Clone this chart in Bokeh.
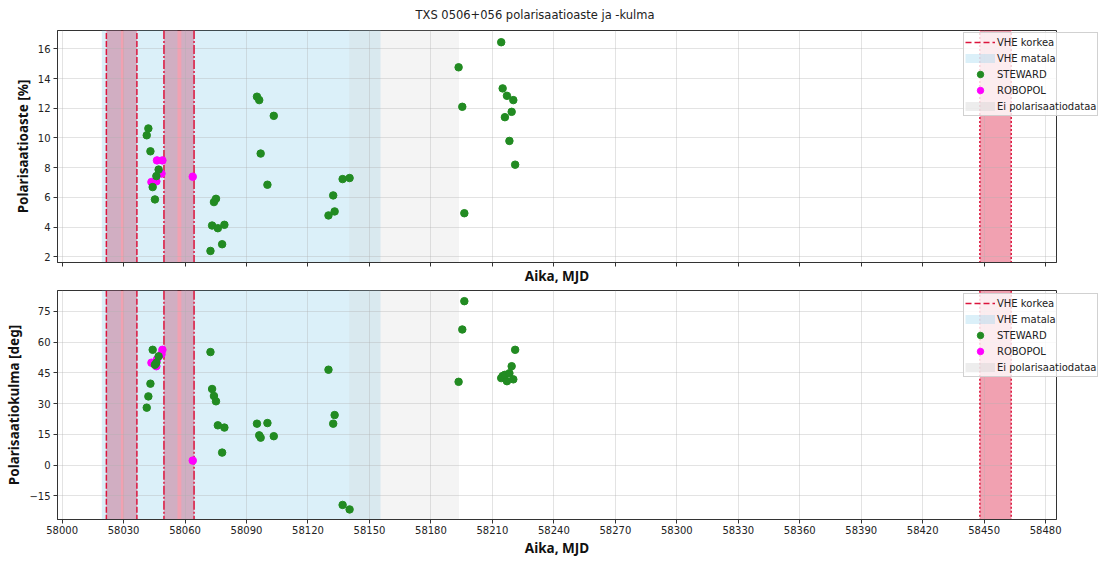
from bokeh.plotting import figure
from bokeh.layouts import column
from bokeh.models import Range1d, FixedTicker, Legend, LegendItem
from bokeh.embed import file_html
from bokeh.resources import INLINE

title_text = "TXS 0506+056 polarisaatioaste ja -kulma"
x_label = "Aika, MJD"
y_label_top = "Polarisaatioaste [%]"
y_label_bottom = "Polarisaatiokulma [deg]"

# STEWARD observations
steward_mjd = [58041.3, 58042.1, 58043.1, 58044.2, 58045.3, 58046.0, 58047.1,
               58072.4, 58073.2, 58074.1, 58075.1, 58076.0, 58078.1, 58079.2,
               58095.1, 58096.2, 58096.9, 58100.2, 58103.3,
               58130.0, 58132.3, 58133.0, 58136.9, 58140.3,
               58193.5, 58195.3, 58196.3,
               58214.3, 58215.0, 58216.1, 58217.1, 58218.3, 58219.4, 58220.2, 58221.1]
steward_pol = [10.18, 10.64, 9.10, 6.69, 5.86, 7.43, 7.87,
               2.39, 4.10, 5.68, 5.90, 3.92, 2.84, 4.15,
               12.78, 12.55, 8.95, 6.85, 11.49,
               4.78, 6.13, 5.05, 7.23, 7.30,
               14.76, 12.10, 4.93,
               16.45, 13.34, 11.40, 12.84, 9.80, 11.76, 12.55, 8.20]
steward_angle = [28.0, 33.5, 39.7, 56.2, 48.9, 49.9, 53.0,
                 55.1, 37.1, 33.7, 31.1, 19.4, 6.1, 18.3,
                 20.2, 14.5, 13.4, 20.5, 14.1,
                 46.5, 20.2, 24.4, -19.4, -21.6,
                 40.6, 66.1, 79.9,
                 42.4, 43.4, 44.0, 40.9, 44.8, 48.2, 41.8, 56.2]

# RoboPol observations
robopol_mjd = [58043.6, 58046.0, 58046.3, 58048.5, 58048.95, 58063.75]
robopol_pol = [7.03, 7.08, 8.49, 7.60, 8.49, 7.39]
robopol_angle = [49.9, 48.2, 51.5, 54.0, 56.2, 2.2]

# Shaded intervals (MJD)
vhe_high_start = [58021.6, 58049.7, 58447.9]
vhe_high_end = [58036.5, 58064.4, 58463.2]
vhe_high_dash = ["6 2", "9 2 2 2", "2 2"]
vhe_low_start = [58019.4, 58030.1, 58058.2]
vhe_low_end = [58028.7, 58056.3, 58155.4]
nodata_start = [58140.1]
nodata_end = [58193.7]

x_ticks = list(range(58000, 58481, 30))
y_ticks_top = [2, 4, 6, 8, 10, 12, 14, 16]
y_ticks_bottom = [-15, 0, 15, 30, 45, 60, 75]

X_RANGE = (57997.75, 58485.3)
YR_TOP = (1.61, 17.24)
YR_BOTTOM = (-26.5, 85.1)

FONT = "DejaVu Sans"
LABEL_FONT = "Noto Sans"
BIG = 1e4
LEG_H = 82
OFF_X = [X_RANGE[0] - 200, X_RANGE[0] - 100]
OFF_Y = [-BIG, -BIG]


def panel(st_y, rp_y, yr, yticks, ylabel, frame_h, top_border, show_tick_labels,
          legend_gap, title=None):
    p = figure(frame_width=999, frame_height=frame_h,
               x_range=Range1d(*X_RANGE), y_range=Range1d(*yr),
               output_backend="svg", toolbar_location=None,
               min_border_left=57, min_border_right=48,
               min_border_top=top_border, min_border_bottom=0,
               title=title)
    if title is not None:
        p.title.text_font = FONT
        p.title.text_font_size = "11.5px"
        p.title.text_font_style = "normal"
        p.title.align = "left"
        p.title.offset = 358
        p.title.vertical_align = "top"
        p.title.text_color = "#222222"
        p.title.standoff = 13
    p.outline_line_color = "#333333"
    p.outline_line_width = 1
    p.outline_line_alpha = 1

    p.quad(left=vhe_high_start, right=vhe_high_end, bottom=-BIG, top=BIG,
           fill_color="crimson", fill_alpha=0.4, line_color=None, level="image")
    p.quad(left=vhe_low_start, right=vhe_low_end, bottom=-BIG, top=BIG,
           fill_color="skyblue", fill_alpha=0.3, line_color=None, level="image")
    p.quad(left=nodata_start, right=nodata_end, bottom=-BIG, top=BIG,
           fill_color="lightgray", fill_alpha=0.25, line_color=None, level="image")

    for s, e, d in zip(vhe_high_start, vhe_high_end, vhe_high_dash):
        p.segment(x0=[s, e], y0=[-BIG, -BIG], x1=[s, e], y1=[BIG, BIG],
                  line_color="crimson", line_width=1.5, line_dash=d)

    # legend proxies (outside the visible range)
    leg_line = p.line(x=OFF_X, y=OFF_Y, line_color="crimson", line_width=1.5, line_dash="6 3")
    leg_blue = p.line(x=OFF_X, y=OFF_Y, line_color="skyblue", line_alpha=0.3,
                      line_width=9, line_cap="butt")
    leg_gray = p.line(x=OFF_X, y=OFF_Y, line_color="lightgray", line_alpha=0.4,
                      line_width=9, line_cap="butt")

    rp = p.scatter(robopol_mjd, rp_y, size=7.5, fill_color="magenta", line_color="magenta")
    st = p.scatter(steward_mjd, st_y, size=7.5, fill_color="forestgreen", line_color="forestgreen")

    p.xgrid.grid_line_color = "#b0b0b0"
    p.ygrid.grid_line_color = "#b0b0b0"
    p.xgrid.grid_line_alpha = 0.35
    p.ygrid.grid_line_alpha = 0.35

    p.yaxis.ticker = FixedTicker(ticks=yticks)
    p.yaxis.major_label_overrides = {t: ("\u2212" + str(-t)) for t in yticks if t < 0}
    for ax in (p.xaxis[0], p.yaxis[0]):
        ax.major_tick_out = 4
        ax.major_tick_in = 0
        ax.minor_tick_line_color = None
        ax.major_tick_line_color = "#333333"
        ax.axis_line_color = "#333333"
        ax.major_label_text_font = FONT
        ax.major_label_text_font_size = "10px"
        ax.major_label_text_color = "#222222"
        ax.major_label_standoff = 3
        ax.axis_label_text_font = LABEL_FONT
        ax.axis_label_text_font_size = "13.5px"
        ax.axis_label_text_font_style = "bold"
        ax.axis_label_text_color = "#111111"
        ax.axis_label_standoff = 3
    p.xaxis.axis_label = x_label
    p.yaxis.axis_label = ylabel
    if show_tick_labels:
        p.xaxis.ticker = FixedTicker(ticks=x_ticks)
        p.xaxis.major_label_standoff = 2
        p.xaxis.axis_label_standoff = 2
    else:
        # tick marks only (as minor ticks), no tick labels
        p.xaxis.ticker = FixedTicker(ticks=[], minor_ticks=x_ticks)
        p.xaxis.minor_tick_line_color = "#333333"
        p.xaxis.minor_tick_out = 4
        p.xaxis.minor_tick_in = 0
        p.xaxis.axis_label_standoff = 0
        p.xgrid.ticker = FixedTicker(ticks=x_ticks)

    legend = Legend(items=[
        LegendItem(label="VHE korkea", renderers=[leg_line]),
        LegendItem(label="VHE matala", renderers=[leg_blue]),
        LegendItem(label="STEWARD", renderers=[st]),
        LegendItem(label="ROBOPOL", renderers=[rp]),
        LegendItem(label="Ei polarisaatiodataa", renderers=[leg_gray]),
    ])
    legend.location = (-93, frame_h - legend_gap - LEG_H)
    legend.label_text_font = FONT
    legend.label_text_font_size = "10px"
    legend.label_text_color = "#222222"
    legend.glyph_width = 30
    legend.glyph_height = 16
    legend.label_height = 16
    legend.label_standoff = 2
    legend.spacing = 0
    legend.padding = 1
    legend.margin = -50
    legend.border_line_color = "#cccccc"
    legend.border_line_alpha = 0.9
    legend.background_fill_alpha = 0.8
    p.add_layout(legend, "right")
    return p


p1 = panel(steward_pol, robopol_pol, YR_TOP, y_ticks_top, y_label_top,
           frame_h=232, top_border=30, show_tick_labels=False, legend_gap=4,
           title=title_text)
p2 = panel(steward_angle, robopol_angle, YR_BOTTOM, y_ticks_bottom, y_label_bottom,
           frame_h=229, top_border=3, show_tick_labels=True, legend_gap=5)

layout = column(p1, p2, spacing=0)
open("out.html", "w").write(file_html(layout, INLINE))
